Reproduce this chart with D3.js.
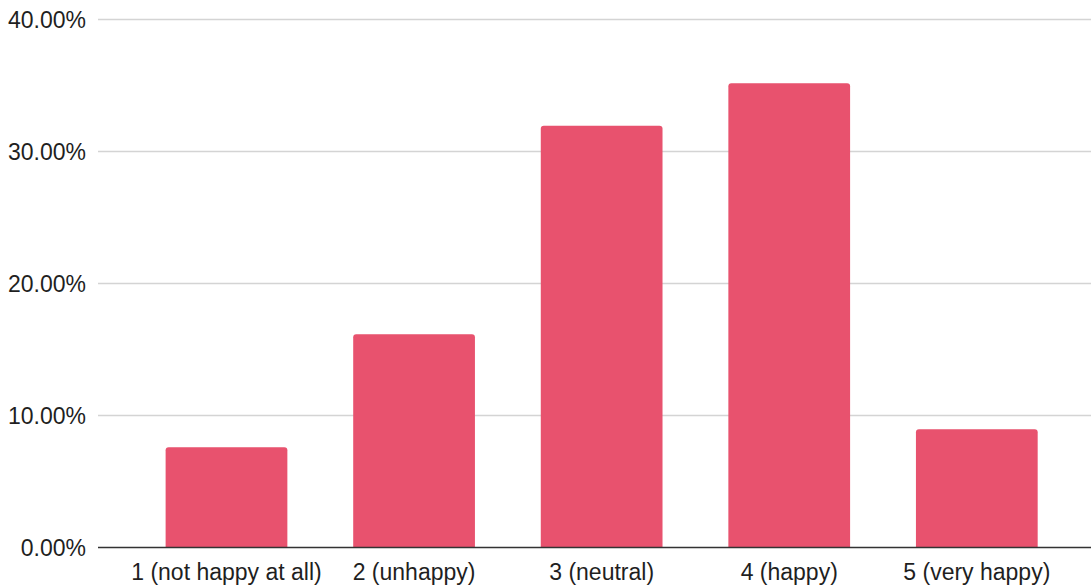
<!DOCTYPE html>
<html>
<head>
<meta charset="utf-8">
<script src="https://cdn.jsdelivr.net/npm/d3@7"></script>
<style>
  html, body { margin: 0; padding: 0; background: #fff; }
  svg { display: block; }
  text { font-family: "Liberation Sans", Arial, sans-serif; }
</style>
</head>
<body>
<script>
// Happiness rating distribution (share of respondents)
const categories = ["1 (not happy at all)", "2 (unhappy)", "3 (neutral)", "4 (happy)", "5 (very happy)"];
const shares = [0.0759, 0.1615, 0.3195, 0.3517, 0.0895];
const yTicks = [0, 0.1, 0.2, 0.3, 0.4];

const width = 1091, height = 587;
const plot = { left: 98, right: 1091, top: 19.5, bottom: 547.5 };

const svg = d3.select("body").append("svg")
  .attr("width", width)
  .attr("height", height);

const x = d3.scaleBand()
  .domain(categories)
  .range([132.7, 1070.6])
  .paddingInner(0.351)
  .paddingOuter(0.1755);

const y = d3.scaleLinear()
  .domain([0, 0.4])
  .range([plot.bottom, plot.top]);

const fmt = d3.format(".2%");

// Horizontal gridlines (baseline drawn separately, darker)
svg.append("g")
  .selectAll("line")
  .data(yTicks.filter(d => d > 0))
  .join("line")
  .attr("x1", plot.left)
  .attr("x2", plot.right)
  .attr("y1", d => y(d))
  .attr("y2", d => y(d))
  .attr("stroke", "#d4d4d4")
  .attr("stroke-width", 1.3);

// Y tick labels
svg.append("g")
  .selectAll("text")
  .data(yTicks)
  .join("text")
  .attr("x", 86)
  .attr("y", d => y(d) + 8.5)
  .attr("text-anchor", "end")
  .attr("font-size", 23)
  .attr("fill", "#1f1f1f")
  .text(d => fmt(d));

// Bars with slightly rounded top corners
const r = 3;
svg.append("g")
  .selectAll("path")
  .data(categories.map((c, i) => ({ c, v: shares[i] })))
  .join("path")
  .attr("fill", "#e8526e")
  .attr("d", d => {
    const x0 = x(d.c), x1 = x0 + x.bandwidth();
    const yt = y(d.v), yb = y(0);
    return `M${x0},${yb} L${x0},${yt + r} Q${x0},${yt} ${x0 + r},${yt} ` +
           `L${x1 - r},${yt} Q${x1},${yt} ${x1},${yt + r} L${x1},${yb} Z`;
  });

// Baseline
svg.append("line")
  .attr("x1", plot.left)
  .attr("x2", plot.right)
  .attr("y1", y(0))
  .attr("y2", y(0))
  .attr("stroke", "#333")
  .attr("stroke-width", 1.4);

// Category labels
svg.append("g")
  .selectAll("text")
  .data(categories)
  .join("text")
  .attr("x", d => x(d) + x.bandwidth() / 2)
  .attr("y", 580)
  .attr("text-anchor", "middle")
  .attr("font-size", 23)
  .attr("fill", "#1f1f1f")
  .text(d => d);
</script>
</body>
</html>
